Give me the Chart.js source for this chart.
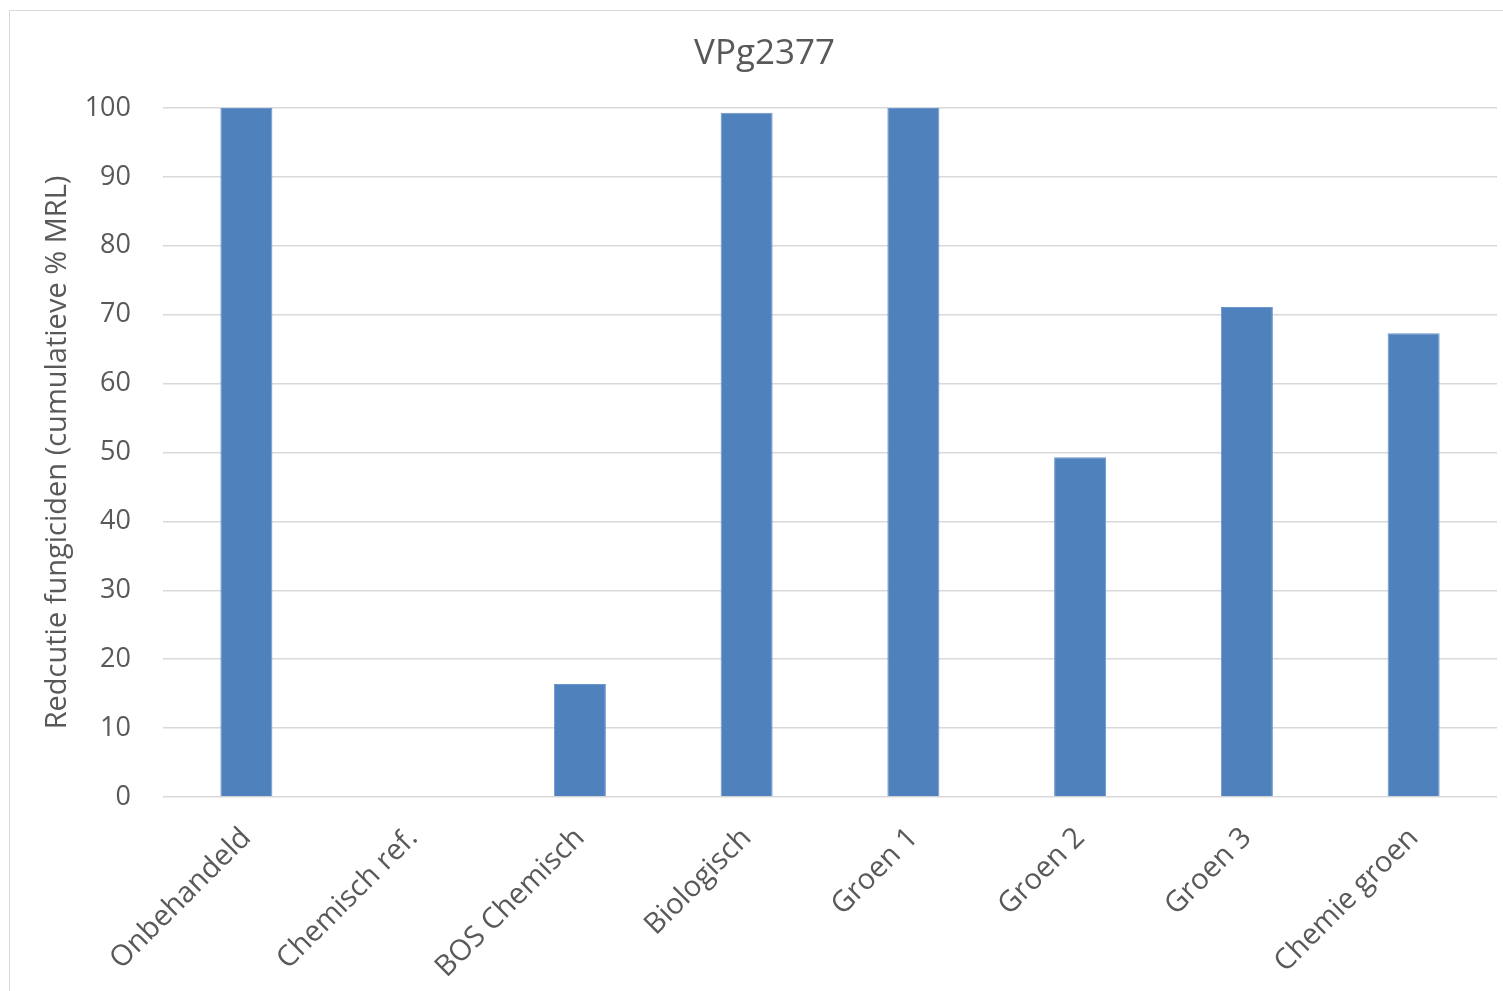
<!DOCTYPE html>
<html>
<head>
<meta charset="utf-8">
<script src="https://cdn.jsdelivr.net/npm/chart.js@4/dist/chart.umd.min.js"></script>
<style>
  html, body { margin: 0; padding: 0; background: #fff; overflow: hidden; }
  #frame { position: absolute; left: 9px; top: 10px; width: 1510px; height: 1000px; border: 1.5px solid #d9d9d9; box-sizing: border-box; }
  #wrap { position: absolute; left: 0; top: 0; width: 1503px; height: 991px; }
</style>
</head>
<body>
<div id="frame"></div>
<div id="wrap"><canvas id="c"></canvas></div>
<script>
const categories = ['Onbehandeld', 'Chemisch ref.', 'BOS Chemisch', 'Biologisch', 'Groen 1', 'Groen 2', 'Groen 3', 'Chemie groen'];
const reductie = [100, 0, 16.4, 99.3, 100, 49.3, 71.1, 67.3];
const yTicks = [0, 10, 20, 30, 40, 50, 60, 70, 80, 90, 100];

const textColor = '#595959';
const fontFamily = '"Open Sans", "Liberation Sans", sans-serif';

new Chart(document.getElementById('c'), {
  type: 'bar',
  data: {
    labels: categories,
    datasets: [{
      data: reductie,
      backgroundColor: '#4F81BD',
      borderColor: '#6A95CB',
      borderWidth: 1,
      barPercentage: 0.312,
      categoryPercentage: 1
    }]
  },
  options: {
    responsive: true,
    maintainAspectRatio: false,
    animation: false,
    layout: { padding: { left: 32, right: 6, top: 0, bottom: 0 } },
    plugins: {
      legend: { display: false },
      tooltip: { enabled: false },
      title: {
        display: true,
        text: 'VPg2377',
        color: textColor,
        font: { family: fontFamily, size: 35, weight: 'normal', lineHeight: 1.2 },
        padding: { top: 33, bottom: 33 }
      }
    },
    scales: {
      x: {
        grid: { display: false, drawTicks: false },
        border: { display: false },
        ticks: {
          color: textColor,
          font: { family: fontFamily, size: 29 },
          minRotation: 45,
          maxRotation: 45,
          autoSkip: false,
          padding: 24
        },
        afterFit: (scale) => { scale.height = 194; }
      },
      y: {
        min: 0,
        max: 100,
        afterBuildTicks: (scale) => { scale.ticks = yTicks.map(v => ({ value: v })); },
        grid: { color: '#d9d9d9', lineWidth: 1.5, drawTicks: false },
        border: { display: false },
        ticks: {
          color: textColor,
          font: { family: fontFamily, size: 27 },
          padding: 32
        },
        title: {
          display: true,
          text: 'Redcutie fungiciden (cumulatieve % MRL)',
          color: textColor,
          font: { family: fontFamily, size: 29, weight: 'normal', lineHeight: 1.2 },
          padding: { top: 8, bottom: 0 }
        },
        afterFit: (scale) => { scale.width = 131; }
      }
    }
  }
});
</script>
</body>
</html>
